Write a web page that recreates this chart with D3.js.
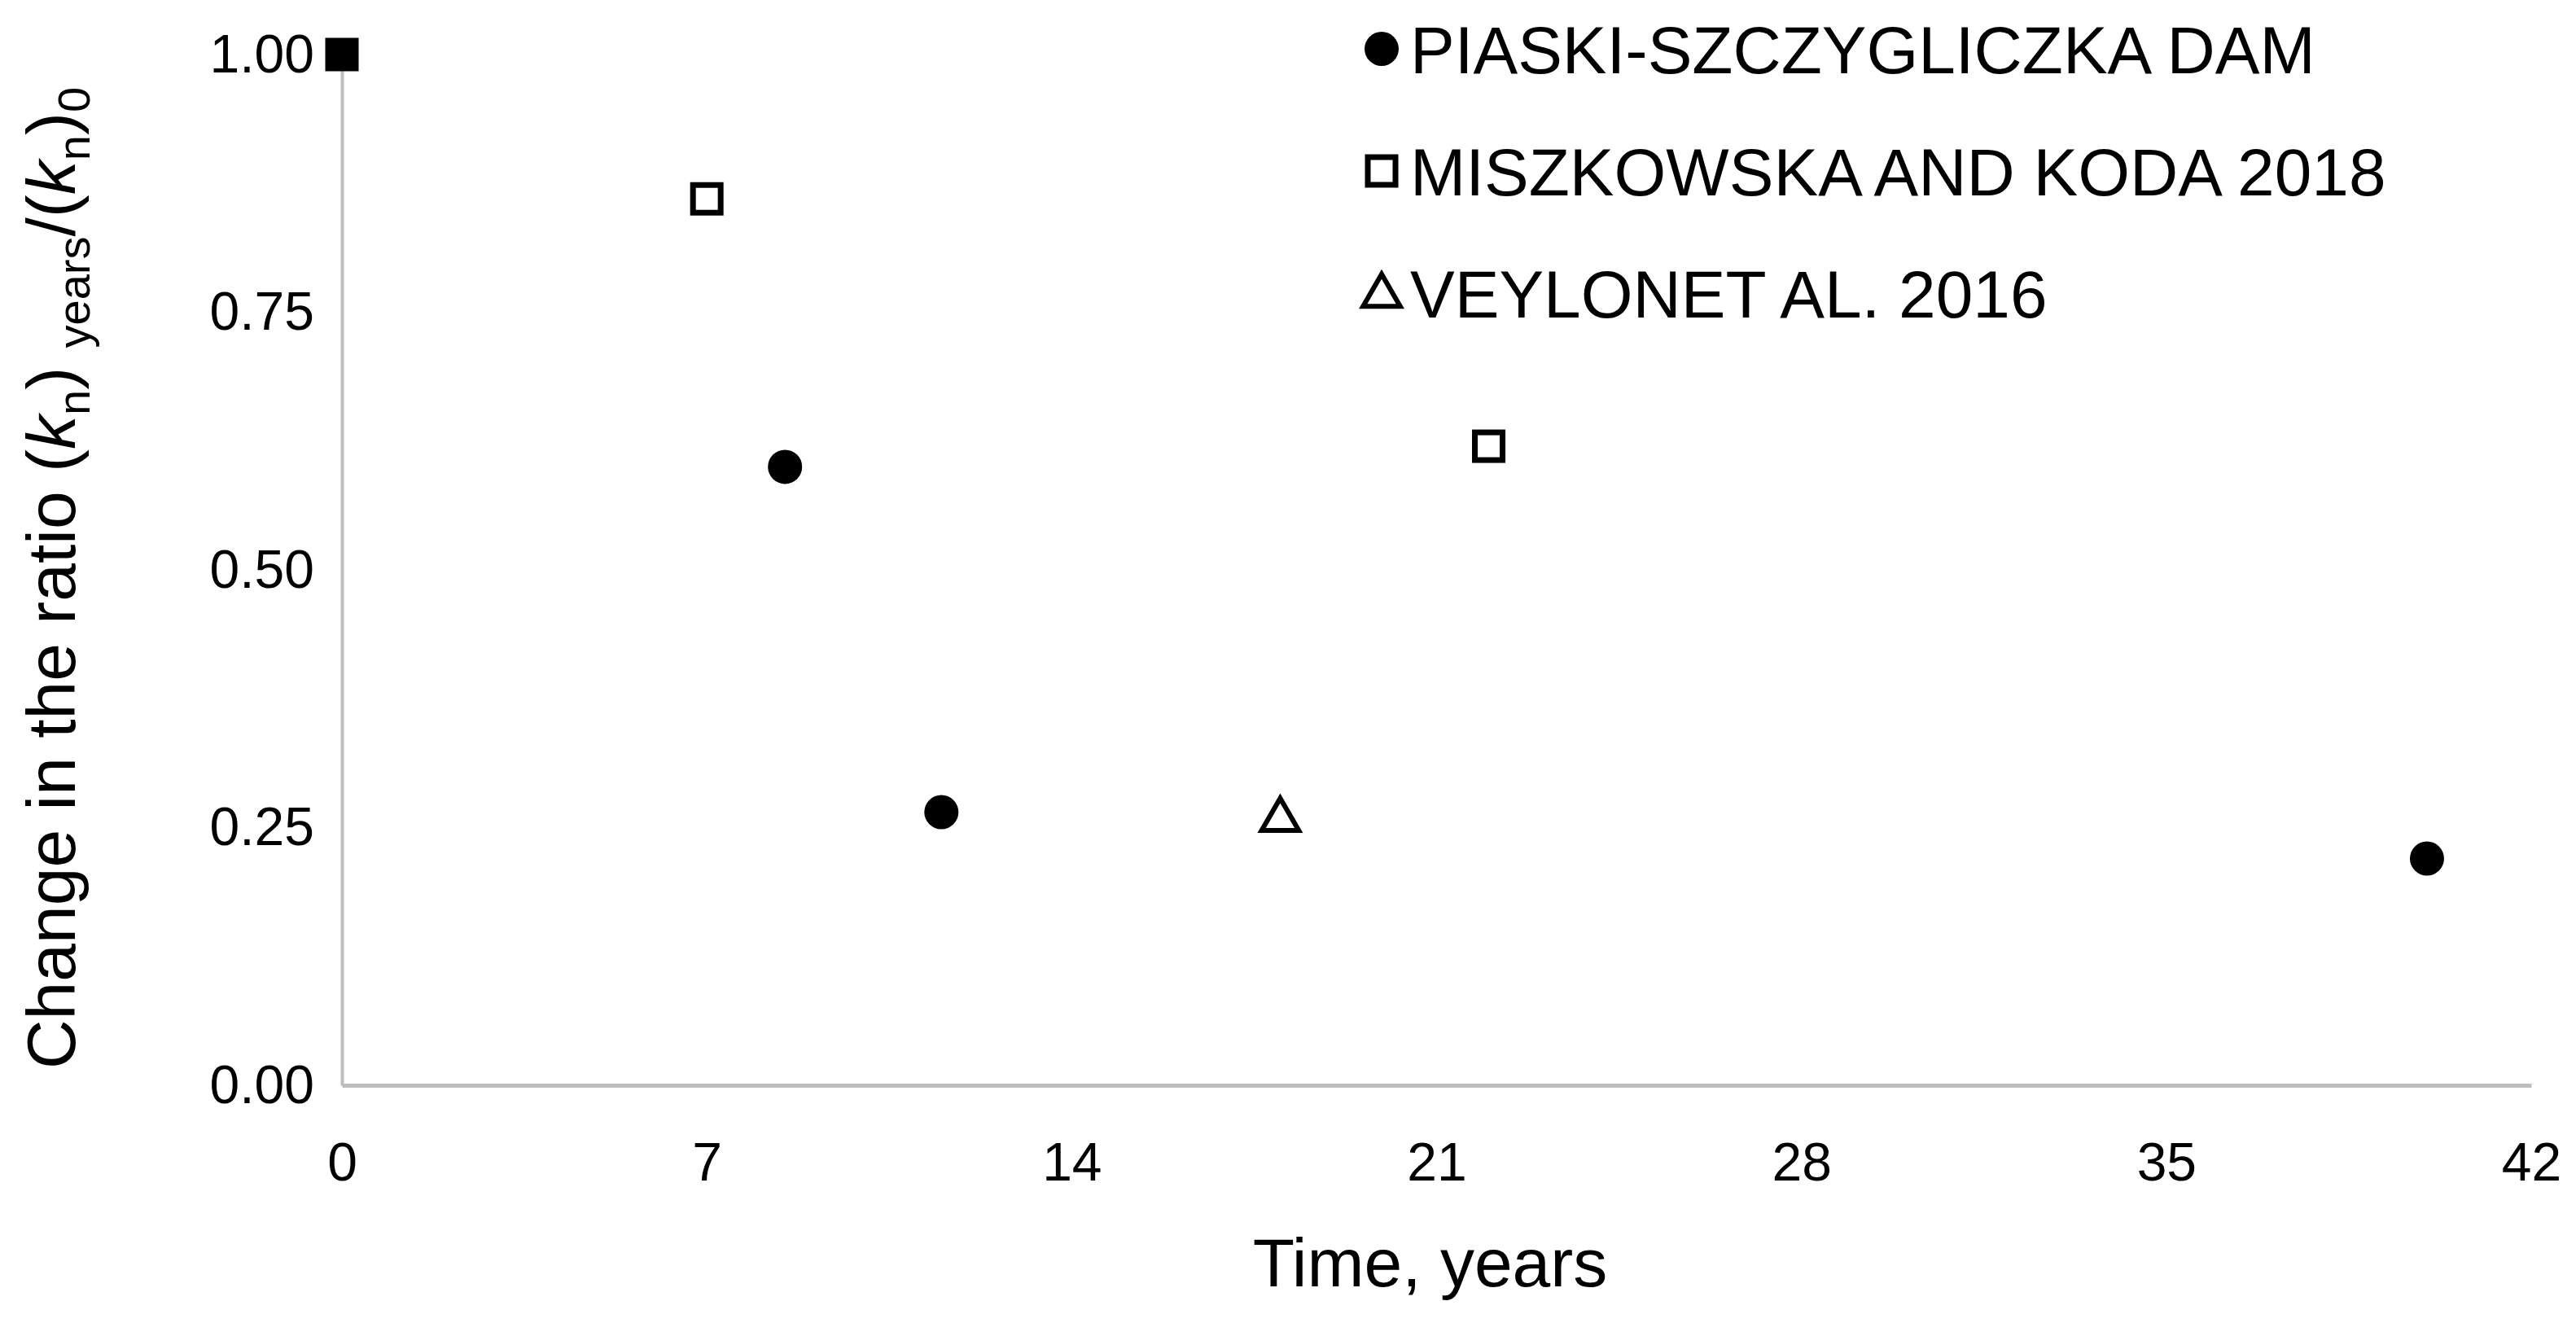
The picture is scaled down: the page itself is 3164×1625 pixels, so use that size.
<!DOCTYPE html>
<html>
<head>
<meta charset="utf-8">
<script src="https://cdn.jsdelivr.net/npm/d3@7"></script>
<style>
  body { margin: 0; background: #fff; }
  svg { font-family: "Liberation Sans", Arial, sans-serif; }
</style>
</head>
<body>
<div id="chart"></div>
<script>
// Data
const piaskiX = [0, 8.5, 11.5, 40];
const piaskiY = [1.0, 0.60, 0.265, 0.22];
const miszkowskaX = [7, 22];
const miszkowskaY = [0.86, 0.62];
const veylonX = [18];
const veylonY = [0.26];
const xTicks = [0, 7, 14, 21, 28, 35, 42];
const yTicks = [0, 0.25, 0.5, 0.75, 1.0];
const legendLabels = ['PIASKI-SZCZYGLICZKA DAM', 'MISZKOWSKA AND KODA 2018', 'VEYLONET AL. 2016'];

const W = 3164, H = 1625;
const m = { left: 420, right: 55, top: 67, bottom: 292 };

const svg = d3.select('#chart').append('svg')
    .attr('width', W)
    .attr('height', H);

const x = d3.scaleLinear().domain([0, 42]).range([m.left, W - m.right]);
const y = d3.scaleLinear().domain([0, 1]).range([H - m.bottom, m.top]);

// axes
const xAxis = svg.append('g')
    .attr('transform', `translate(0,${y(0)})`)
    .call(d3.axisBottom(x).tickValues(xTicks).tickSize(0).tickPadding(70));
xAxis.select('.domain').attr('stroke', '#bdbdbd').attr('stroke-width', 5);
xAxis.selectAll('text').style('font-size', '66px').attr('fill', '#000');

const yAxis = svg.append('g')
    .attr('transform', `translate(${x(0)},0)`)
    .call(d3.axisLeft(y).tickValues(yTicks).tickSize(0).tickPadding(34).tickFormat(d3.format('.2f')));
yAxis.select('.domain').attr('stroke', '#bdbdbd').attr('stroke-width', 4);
yAxis.selectAll('text').style('font-size', '66px').attr('fill', '#000');

// axis titles
svg.append('text')
    .attr('x', (x(0) + x(42)) / 2 - 8)
    .attr('y', 1580)
    .attr('text-anchor', 'middle')
    .style('font-size', '84px')
    .text('Time, years');

const yt = svg.append('text')
    .attr('transform', `translate(92,${(y(0) + y(1)) / 2 + 10}) rotate(-90)`)
    .attr('text-anchor', 'middle')
    .style('font-size', '84px');
yt.append('tspan').text('Change in the ratio (');
yt.append('tspan').style('font-style', 'italic').text('k');
yt.append('tspan').attr('dy', 18).style('font-size', '56px').text('n');
yt.append('tspan').attr('dy', -18).text(') ');
yt.append('tspan').attr('dy', 18).style('font-size', '56px').text('years');
yt.append('tspan').attr('dy', -18).text('/(');
yt.append('tspan').style('font-style', 'italic').text('k');
yt.append('tspan').attr('dy', 18).style('font-size', '56px').text('n');
yt.append('tspan').attr('dy', -18).text(')');
yt.append('tspan').attr('dy', 18).style('font-size', '56px').text('0');

// markers
const sq = 34;
const tri = d3.symbol().type(d3.symbolTriangle).size(900);

function drawMarker(g, kind, cx, cy, filled) {
    if (kind === 'circle') {
        g.append('circle').attr('cx', cx).attr('cy', cy).attr('r', 21).attr('fill', '#000');
    } else if (kind === 'square') {
        g.append('rect')
            .attr('x', cx - sq / 2).attr('y', cy - sq / 2)
            .attr('width', sq).attr('height', sq)
            .attr('fill', filled ? '#000' : '#fff')
            .attr('stroke', '#000').attr('stroke-width', 7);
    } else {
        g.append('path').attr('d', tri)
            .attr('transform', `translate(${cx},${cy + 3})`)
            .attr('fill', '#fff').attr('stroke', '#000').attr('stroke-width', 6);
    }
}

const pts = svg.append('g');
piaskiX.forEach((d, i) => {
    // first point drawn as filled square in the original
    drawMarker(pts, i === 0 ? 'square' : 'circle', x(d), y(piaskiY[i]), true);
});
miszkowskaX.forEach((d, i) => drawMarker(pts, 'square', x(d), y(miszkowskaY[i]), false));
veylonX.forEach((d, i) => drawMarker(pts, 'triangle', x(d), y(veylonY[i]), false));

// legend
const kinds = ['circle', 'square', 'triangle'];
const leg = svg.append('g');
legendLabels.forEach((lab, i) => {
    const ly = 60 + i * 150;
    drawMarker(leg, kinds[i], 1697, ly, false);
    leg.append('text')
        .attr('x', 1732).attr('y', ly + 30)
        .style('font-size', '82px')
        .text(lab);
});
</script>
</body>
</html>
